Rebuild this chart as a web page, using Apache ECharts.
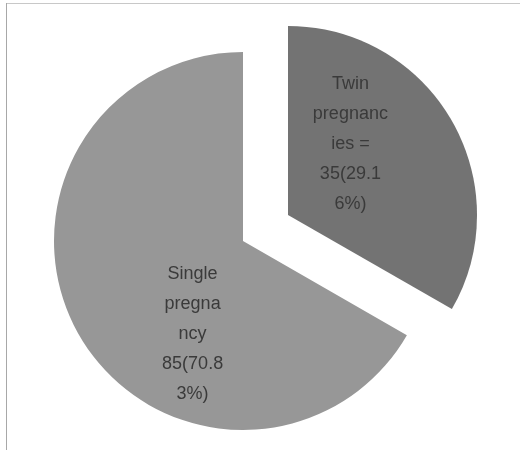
<!DOCTYPE html>
<html>
<head>
<meta charset="utf-8">
<script src="https://cdn.jsdelivr.net/npm/echarts@6/dist/echarts.min.js"></script>
<style>html,body{margin:0;padding:0;background:#fff}#c{width:520px;height:450px}</style>
</head>
<body>
<div id="c"></div>
<script>
// Categories (as they appear in the picture)
var categories = ['Twin pregnancies', 'Single pregnancy'];
var sliceShares = [33.3, 66.7];
// Counts and percentages printed in the labels
var counts = [35, 85];
var percents = ['29.16', '70.83'];
// Label text, wrapped as in the original
var labelTexts = [
  'Twin\npregnanc\nies =\n35(29.1\n6%)',
  'Single\npregna\nncy\n85(70.8\n3%)'
];
var colors = ['#737373', '#979797'];

var chart = echarts.init(document.getElementById('c'), null, {renderer: 'canvas'});
var labelOffsets = [[-22, -22], [34, 44]];
var data = categories.map(function (c, i) {
  return {
    name: c,
    value: sliceShares[i],
    selected: i === 0,
    itemStyle: {color: colors[i]},
    label: {offset: labelOffsets[i]},
    select: {label: {offset: labelOffsets[i]}, itemStyle: {color: colors[i]}}
  };
});
chart.setOption({
  animation: false,
  backgroundColor: '#ffffff',
  graphic: [
    {type: 'line', shape: {x1: 6, y1: 3.5, x2: 520, y2: 3.5}, style: {stroke: '#c8c8c8', lineWidth: 1}},
    {type: 'line', shape: {x1: 6.5, y1: 3, x2: 6.5, y2: 450}, style: {stroke: '#a8a8a8', lineWidth: 1}}
  ],
  series: [{
    type: 'pie',
    center: [243, 241],
    radius: [0, 189],
    startAngle: 90,
    clockwise: true,
    selectedMode: 'single',
    selectedOffset: 52,
    emphasis: {disabled: true},
    avoidLabelOverlap: false,
    label: {
      show: true,
      position: 'inside',
      formatter: function (p) { return labelTexts[p.dataIndex]; },
      color: '#3a3a3a',
      fontFamily: 'Liberation Sans, Arial, sans-serif',
      fontSize: 18,
      lineHeight: 30,
      align: 'center'
    },
    labelLine: {show: false},
    itemStyle: {borderWidth: 0},
    data: data
  }]
});
</script>
</body>
</html>
